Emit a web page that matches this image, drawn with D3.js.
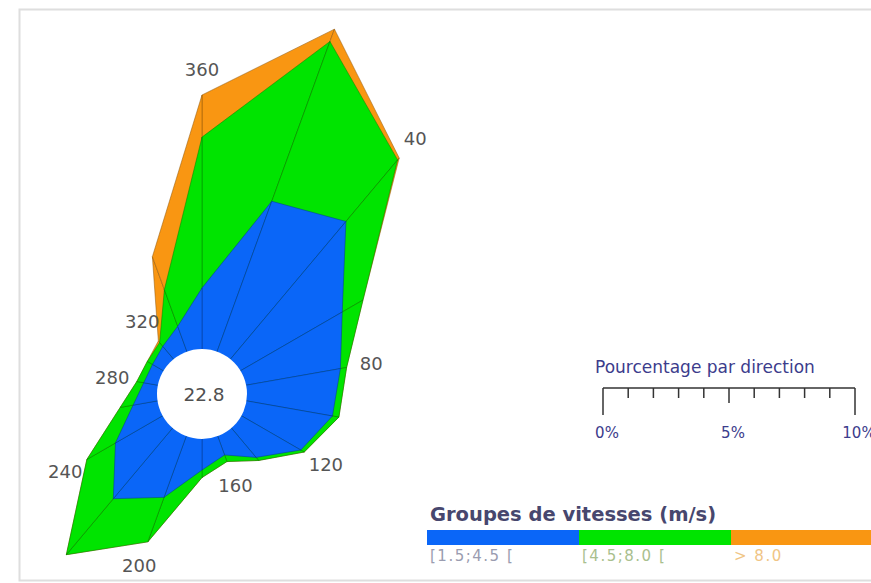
<!DOCTYPE html>
<html>
<head>
<meta charset="utf-8">
<script src="https://cdn.jsdelivr.net/npm/d3@7/dist/d3.min.js"></script>
<style>
  html, body { margin: 0; padding: 0; background: #ffffff; }
  svg { display: block; font-family: "DejaVu Sans", Verdana, sans-serif; }
</style>
</head>
<body>
<svg id="chart" width="871" height="583"></svg>
<script>
// Wind directions (degrees, clockwise from north), one sector every 20°
const directions = [0, 20, 40, 60, 80, 100, 120, 140, 160, 180, 200, 220, 240, 260, 280, 300, 320, 340];

// Frequency (% of observations) per direction for each speed group
const slowPct   = [2.38, 6.31, 7.10, 4.64, 3.79, 3.47, 2.74, 1.55, 0.83, 1.27, 2.62, 3.69, 2.18, 0.99, 0.56, 0.48, 0.63, 1.03];
const mediumPct = [5.99, 6.75, 3.19, 0.95, 0.25, 0.26, 0.16, 0.16, 0.28, 0.30, 1.88, 2.90, 1.31, 0.52, 0.28, 0.24, 0.20, 1.55];
const fastPct   = [1.67, 0.52, 0.10, 0.00, 0.00, 0.00, 0.00, 0.00, 0.00, 0.00, 0.00, 0.00, 0.00, 0.00, 0.00, 0.00, 0.08, 1.39];

// Calm share shown in the central disc
const calmPct = 22.8;

// Direction labels drawn around the rose
const labelDirections = [0, 40, 80, 120, 160, 200, 240, 280, 320];
const labelTexts = ["360", "40", "80", "120", "160", "200", "240", "280", "320"];

// Speed groups (m/s)
const groupNames = ["[1.5;4.5 [", "[4.5;8.0 [", "> 8.0"];
const groupColors = ["#0a66f8", "#00e400", "#f99612"];
const groupTextColors = ["#9a9cb0", "#a9bf8e", "#f0c585"];

// Percentage scale bar
const scaleTicks = [0, 5, 10];
const scaleTickLabels = ["0%", "5%", "10%"];
const scaleMax = 10;

const svg = d3.select("#chart");

// Light frame around the plotting area
svg.append("rect")
  .attr("x", 19.5).attr("y", 9.5)
  .attr("width", 900).attr("height", 571)
  .attr("fill", "none")
  .attr("stroke", "#dedede")
  .attr("stroke-width", 2);

const cx = 202, cy = 393, hole = 45;
const pxPerTen = 252;

// Radial scale: 0 % starts at the edge of the calm disc
const r = d3.scaleLinear().domain([0, scaleMax]).range([hole, hole + pxPerTen]);
const angle = d3.scaleLinear().domain([0, 360]).range([0, 2 * Math.PI]);

// Cumulative layers: slow, slow+medium, slow+medium+fast
const layers = [slowPct, mediumPct, fastPct];
const cumulative = [];
layers.forEach((arr, k) => {
  cumulative.push(arr.map((v, i) => v + (k > 0 ? cumulative[k - 1][i] : 0)));
});

function pt(dir, pct) {
  const a = angle(dir);
  const rad = r(pct);
  return [cx + rad * Math.sin(a), cy - rad * Math.cos(a)];
}

const g = svg.append("g");

// Draw outermost layer first, as a fan of triangles from the centre
for (let k = layers.length - 1; k >= 0; k--) {
  const tri = directions.map((d, i) => {
    const j = (i + 1) % directions.length;
    return [[cx, cy], pt(d, cumulative[k][i]), pt(directions[j], cumulative[k][j])];
  });
  g.append("g").selectAll("path")
    .data(tri)
    .join("path")
    .attr("d", t => "M" + t.map(p => p[0].toFixed(2) + "," + p[1].toFixed(2)).join("L") + "Z")
    .attr("fill", groupColors[k])
    .attr("stroke", d3.color(groupColors[k]).darker(1.6))
    .attr("stroke-opacity", 0.5)
    .attr("stroke-width", 1)
    .attr("stroke-linejoin", "round");
}

// Calm disc
svg.append("circle")
  .attr("cx", cx).attr("cy", cy + 1).attr("r", hole)
  .attr("fill", "#ffffff");
svg.append("text")
  .attr("x", cx + 2).attr("y", cy + 1)
  .attr("text-anchor", "middle")
  .attr("dominant-baseline", "central")
  .attr("font-size", 18.5)
  .attr("fill", "#505050")
  .text(calmPct.toFixed(1));

// Direction labels just outside each petal
const total = cumulative[cumulative.length - 1];
const labelGap = 25;
svg.append("g").selectAll("text")
  .data(labelDirections)
  .join("text")
  .attr("x", d => {
    const i = directions.indexOf(d);
    return cx + (r(total[i]) + labelGap) * Math.sin(angle(d));
  })
  .attr("y", d => {
    const i = directions.indexOf(d);
    return cy - (r(total[i]) + labelGap) * Math.cos(angle(d));
  })
  .attr("text-anchor", "middle")
  .attr("dominant-baseline", "central")
  .attr("font-size", 18)
  .attr("fill", "#555555")
  .text((d, i) => labelTexts[i]);

// Percentage scale bar
const sx = d3.scaleLinear().domain([0, scaleMax]).range([603, 603 + pxPerTen]);
const barY = 388;
const sb = svg.append("g");
sb.append("text")
  .attr("x", 595).attr("y", 373)
  .attr("font-size", 17)
  .attr("fill", "#3c3c8c")
  .text("Pourcentage par direction");
sb.append("line")
  .attr("x1", sx(0)).attr("x2", sx(scaleMax))
  .attr("y1", barY).attr("y2", barY)
  .attr("stroke", "#333").attr("stroke-width", 1.5);
sb.selectAll("line.minor")
  .data(d3.range(0, scaleMax + 1))
  .join("line")
  .attr("class", "minor")
  .attr("x1", d => sx(d)).attr("x2", d => sx(d))
  .attr("y1", barY)
  .attr("y2", d => (d === 0 || d === scaleMax) ? barY + 27 : (d === 5 ? barY + 15 : barY + 10))
  .attr("stroke", "#333").attr("stroke-width", 1.5);
sb.selectAll("text.tl")
  .data(scaleTicks)
  .join("text")
  .attr("class", "tl")
  .attr("x", d => sx(d) + 4)
  .attr("y", 438)
  .attr("text-anchor", "middle")
  .attr("font-size", 15)
  .attr("fill", "#3c3c8c")
  .text((d, i) => scaleTickLabels[i]);

// Speed-group legend
const lg = svg.append("g");
lg.append("text")
  .attr("x", 430).attr("y", 521)
  .attr("font-size", 19.5)
  .attr("font-weight", "bold")
  .attr("fill", "#47476e")
  .text("Groupes de vitesses (m/s)");
const segW = 152;
lg.selectAll("rect")
  .data(groupNames)
  .join("rect")
  .attr("x", (d, i) => 427 + i * segW)
  .attr("y", 530)
  .attr("width", segW)
  .attr("height", 15)
  .attr("fill", (d, i) => groupColors[i]);
lg.selectAll("text.gn")
  .data(groupNames)
  .join("text")
  .attr("class", "gn")
  .attr("x", (d, i) => 430 + i * segW)
  .attr("y", 561)
  .attr("font-size", 15)
  .attr("letter-spacing", 1.5)
  .attr("fill", (d, i) => groupTextColors[i])
  .text(d => d);
</script>
</body>
</html>
